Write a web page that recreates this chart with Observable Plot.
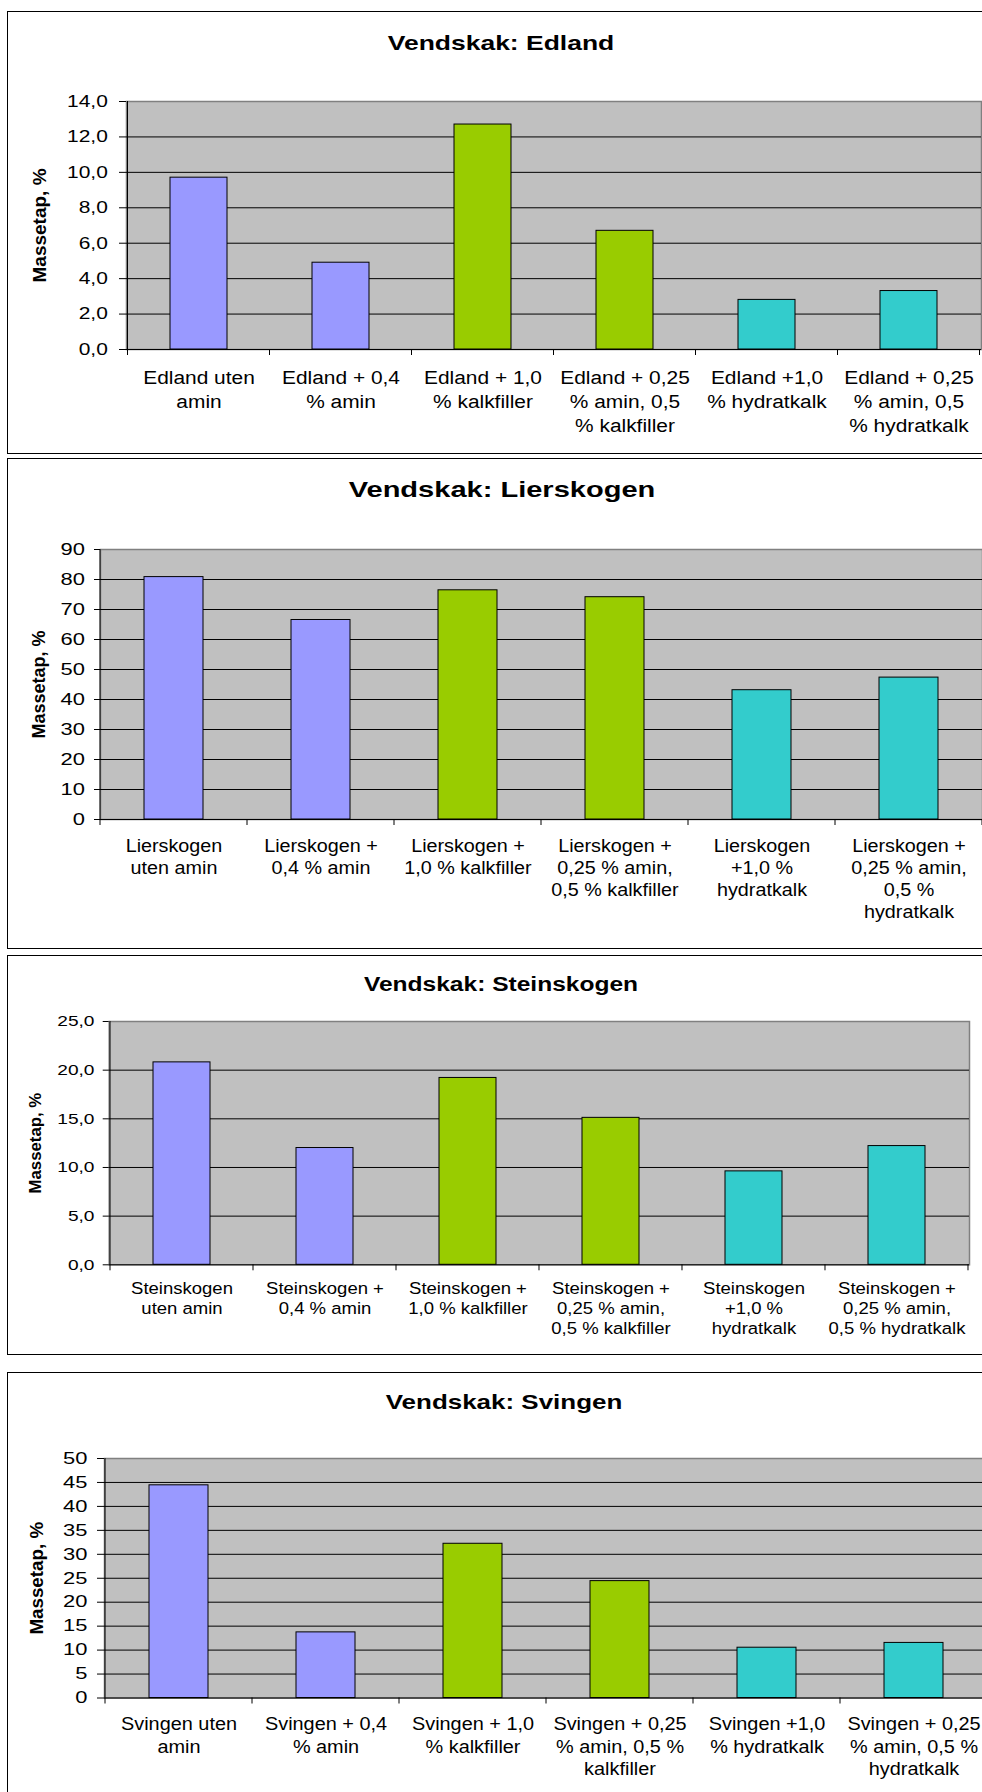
<!DOCTYPE html>
<html>
<head>
<meta charset="utf-8">
<script src="https://cdn.jsdelivr.net/npm/d3@7"></script>
<script src="https://cdn.jsdelivr.net/npm/@observablehq/plot@0.6"></script>
<style>
html, body { margin: 0; padding: 0; width: 982px; height: 1792px; overflow: hidden; background: #fff; }
body { position: relative; font-family: "Liberation Sans", Arial, sans-serif; color: #000; }
.panel { position: absolute; left: 7px; width: 1200px; border: 1px solid #000; box-sizing: border-box; }
.title { position: absolute; font-weight: bold; white-space: nowrap; line-height: 1; transform-origin: center center; }
.chart { position: absolute; left: 0; }
</style>
</head>
<body>
<script>
// ---------- data ----------
const barColors = ["#9999FF", "#9999FF", "#99CC00", "#99CC00", "#33CCCC", "#33CCCC"];
const yAxisTitle = "Massetap, %";

const edlandTitle = "Vendskak: Edland";
const edlandLabels = [
  "Edland uten\namin",
  "Edland + 0,4\n% amin",
  "Edland + 1,0\n% kalkfiller",
  "Edland + 0,25\n% amin, 0,5\n% kalkfiller",
  "Edland +1,0\n% hydratkalk",
  "Edland + 0,25\n% amin, 0,5\n% hydratkalk"
];
const edlandValues = [9.7, 4.9, 12.7, 6.7, 2.8, 3.3];
const edlandTicks = [0, 2, 4, 6, 8, 10, 12, 14];

const lierTitle = "Vendskak: Lierskogen";
const lierLabels = [
  "Lierskogen\nuten amin",
  "Lierskogen +\n0,4 % amin",
  "Lierskogen +\n1,0 % kalkfiller",
  "Lierskogen +\n0,25 % amin,\n0,5 % kalkfiller",
  "Lierskogen\n+1,0 %\nhydratkalk",
  "Lierskogen +\n0,25 % amin,\n0,5 %\nhydratkalk"
];
const lierValues = [80.8, 66.5, 76.4, 74.1, 43.1, 47.3];
const lierTicks = [0, 10, 20, 30, 40, 50, 60, 70, 80, 90];

const steinTitle = "Vendskak: Steinskogen";
const steinLabels = [
  "Steinskogen\nuten amin",
  "Steinskogen +\n0,4 % amin",
  "Steinskogen +\n1,0 % kalkfiller",
  "Steinskogen +\n0,25 % amin,\n0,5 % kalkfiller",
  "Steinskogen\n+1,0 %\nhydratkalk",
  "Steinskogen +\n0,25 % amin,\n0,5 % hydratkalk"
];
const steinValues = [20.8, 12.0, 19.2, 15.1, 9.6, 12.2];
const steinTicks = [0, 5, 10, 15, 20, 25];

const svingTitle = "Vendskak: Svingen";
const svingLabels = [
  "Svingen uten\namin",
  "Svingen + 0,4\n% amin",
  "Svingen + 1,0\n% kalkfiller",
  "Svingen + 0,25\n% amin, 0,5 %\nkalkfiller",
  "Svingen +1,0\n% hydratkalk",
  "Svingen + 0,25\n% amin, 0,5 %\nhydratkalk"
];
const svingValues = [44.4, 13.7, 32.2, 24.4, 10.5, 11.5];
const svingTicks = [0, 5, 10, 15, 20, 25, 30, 35, 40, 45, 50];

// ---------- layout ----------
const panels = [
  { title: edlandTitle, labels: edlandLabels, values: edlandValues, ticks: edlandTicks, decimals: 1,
    boxTop: 11, boxHeight: 443, titleX: 501, titleY: 41.5, titleSize: 21, titleScale: 1.26,
    left: 126, right: 981, top: 101, bottom: 349,
    tickSize: 7, tickPad: 11.7, tickFont: 16.5, tickScale: 1.27,
    labelFont: 19, labelScale: 1.1, labelDy: 17, labelLH: 24 / 19,
    yTitleX: 39.2, yTitleFont: 19 },
  { title: lierTitle, labels: lierLabels, values: lierValues, ticks: lierTicks, decimals: 0,
    boxTop: 458, boxHeight: 491, titleX: 502, titleY: 490, titleSize: 22.5, titleScale: 1.29,
    left: 100, right: 982, top: 549, bottom: 819,
    tickSize: 6, tickPad: 9.5, tickFont: 16.5, tickScale: 1.33,
    labelFont: 17.5, labelScale: 1.13, labelDy: 17.1, labelLH: 22 / 17.5,
    yTitleX: 38.4, yTitleFont: 18 },
  { title: steinTitle, labels: steinLabels, values: steinValues, ticks: steinTicks, decimals: 1,
    boxTop: 955, boxHeight: 400, titleX: 501, titleY: 984, titleSize: 20, titleScale: 1.227,
    left: 108.7, right: 969, top: 1021, bottom: 1264.3,
    tickSize: 6, tickPad: 8.7, tickFont: 15.5, tickScale: 1.235,
    labelFont: 17, labelScale: 1.09, labelDy: 14.8, labelLH: 20 / 17,
    yTitleX: 34.9, yTitleFont: 16.8 },
  { title: svingTitle, labels: svingLabels, values: svingValues, ticks: svingTicks, decimals: 0,
    boxTop: 1372, boxHeight: 500, titleX: 504, titleY: 1402, titleSize: 20.5, titleScale: 1.266,
    left: 104, right: 988, top: 1458, bottom: 1697.5,
    tickSize: 7, tickPad: 10, tickFont: 16.5, tickScale: 1.33,
    labelFont: 18.5, labelScale: 1.075, labelDy: 16.4, labelLH: 22.5 / 18.5,
    yTitleX: 36.7, yTitleFont: 18.8 }
];

const W = 1000, MT = 10, MB = 125;

function categoryTicks(len) {
  return (index, scales, values, dims) => {
    const x = scales.x;
    const step = x.step(), bw = x.bandwidth();
    const dom = x.domain();
    const gap = (step - bw) / 2;
    const b = dom.map(c => x(c) - gap);
    b.push(x(dom[dom.length - 1]) + bw + gap);
    const yb = dims.height - dims.marginBottom;
    const g = d3.create("svg:g").attr("stroke", "black").attr("stroke-width", 1);
    g.append("line").attr("x1", b[0]).attr("x2", b[0]).attr("y1", dims.marginTop).attr("y2", yb);
    g.selectAll("line.t").data(b).join("line").attr("class", "t")
      .attr("x1", d => d).attr("x2", d => d).attr("y1", yb).attr("y2", yb + len);
    return g.node();
  };
}

function stretchNode(t, s) {
  const tr = t.getAttribute("transform");
  if (tr) t.setAttribute("transform", tr + ` scale(${s},1)`);
  else {
    const x = +t.getAttribute("x") || 0, y = +t.getAttribute("y") || 0;
    t.setAttribute("transform", `translate(${x},${y}) scale(${s},1) translate(${-x},${-y})`);
  }
}

for (const p of panels) {
  const box = document.createElement("div");
  box.className = "panel";
  box.style.top = p.boxTop + "px";
  box.style.height = p.boxHeight + "px";
  document.body.appendChild(box);

  const data = p.labels.map((label, i) => ({ label, value: p.values[i], color: barColors[i] }));
  const ymax = p.ticks[p.ticks.length - 1];
  const fmt = p.decimals ? (d => d.toFixed(1).replace(".", ",")) : (d => String(d));
  const height = (p.bottom - p.top) + MT + MB;

  const svg = Plot.plot({
    width: W,
    height,
    marginTop: MT,
    marginBottom: MB,
    marginLeft: p.left,
    marginRight: W - p.right,
    style: "background: transparent; max-width: none; overflow: visible; font-family: 'Liberation Sans', Arial, sans-serif; color: black;",
    x: { type: "band", domain: p.labels, paddingInner: 0.6, paddingOuter: 0.3, align: 0.5, axis: null },
    y: { domain: [0, ymax], label: null },
    color: { type: "identity" },
    marks: [
      Plot.frame({ fill: "#C0C0C0", stroke: "#808080", strokeWidth: 1.5 }),
      Plot.ruleY(p.ticks.filter(t => t > 0 && t < ymax), { stroke: "black", strokeWidth: 1 }),
      Plot.barY(data, { x: "label", y: "value", fill: "color", stroke: "black", strokeWidth: 1, inset: 0 }),
      Plot.ruleY([0], { stroke: "black", strokeWidth: 1 }),
      categoryTicks(6),
      Plot.axisY({ ticks: p.ticks, tickSize: p.tickSize, tickPadding: p.tickPad, tickFormat: fmt,
                   fontSize: p.tickFont, label: null, stroke: "black" }),
      Plot.text(data, { x: "label", text: "label", frameAnchor: "bottom", lineAnchor: "top",
                        textAnchor: "middle", dy: p.labelDy, fontSize: p.labelFont, lineHeight: p.labelLH,
                        fill: "black" }),
      Plot.text([yAxisTitle], { text: d => d, frameAnchor: "left", textAnchor: "middle", lineAnchor: "middle",
                                rotate: -90, dx: p.yTitleX - p.left,
                                fontSize: p.yTitleFont, fontWeight: "bold", fill: "black" })
    ]
  });
  svg.style.height = height + "px";
  svg.style.width = W + "px";

  const tickSet = new Set(p.ticks.map(fmt));
  const labelSet = new Set(p.labels.map(l => l.replace(/\n/g, "")));
  svg.querySelectorAll("text").forEach(t => {
    const s = t.textContent;
    if (labelSet.has(s)) stretchNode(t, p.labelScale);
    else if (tickSet.has(s)) stretchNode(t, p.tickScale);
  });

  const wrap = document.createElement("div");
  wrap.className = "chart";
  wrap.style.top = (p.top - MT) + "px";
  wrap.appendChild(svg);
  document.body.appendChild(wrap);

  const t = document.createElement("div");
  t.className = "title";
  t.textContent = p.title;
  t.style.fontSize = p.titleSize + "px";
  t.style.left = p.titleX + "px";
  t.style.top = p.titleY + "px";
  t.style.transform = `translate(-50%, -50%) scaleX(${p.titleScale})`;
  document.body.appendChild(t);
}
</script>
</body>
</html>
